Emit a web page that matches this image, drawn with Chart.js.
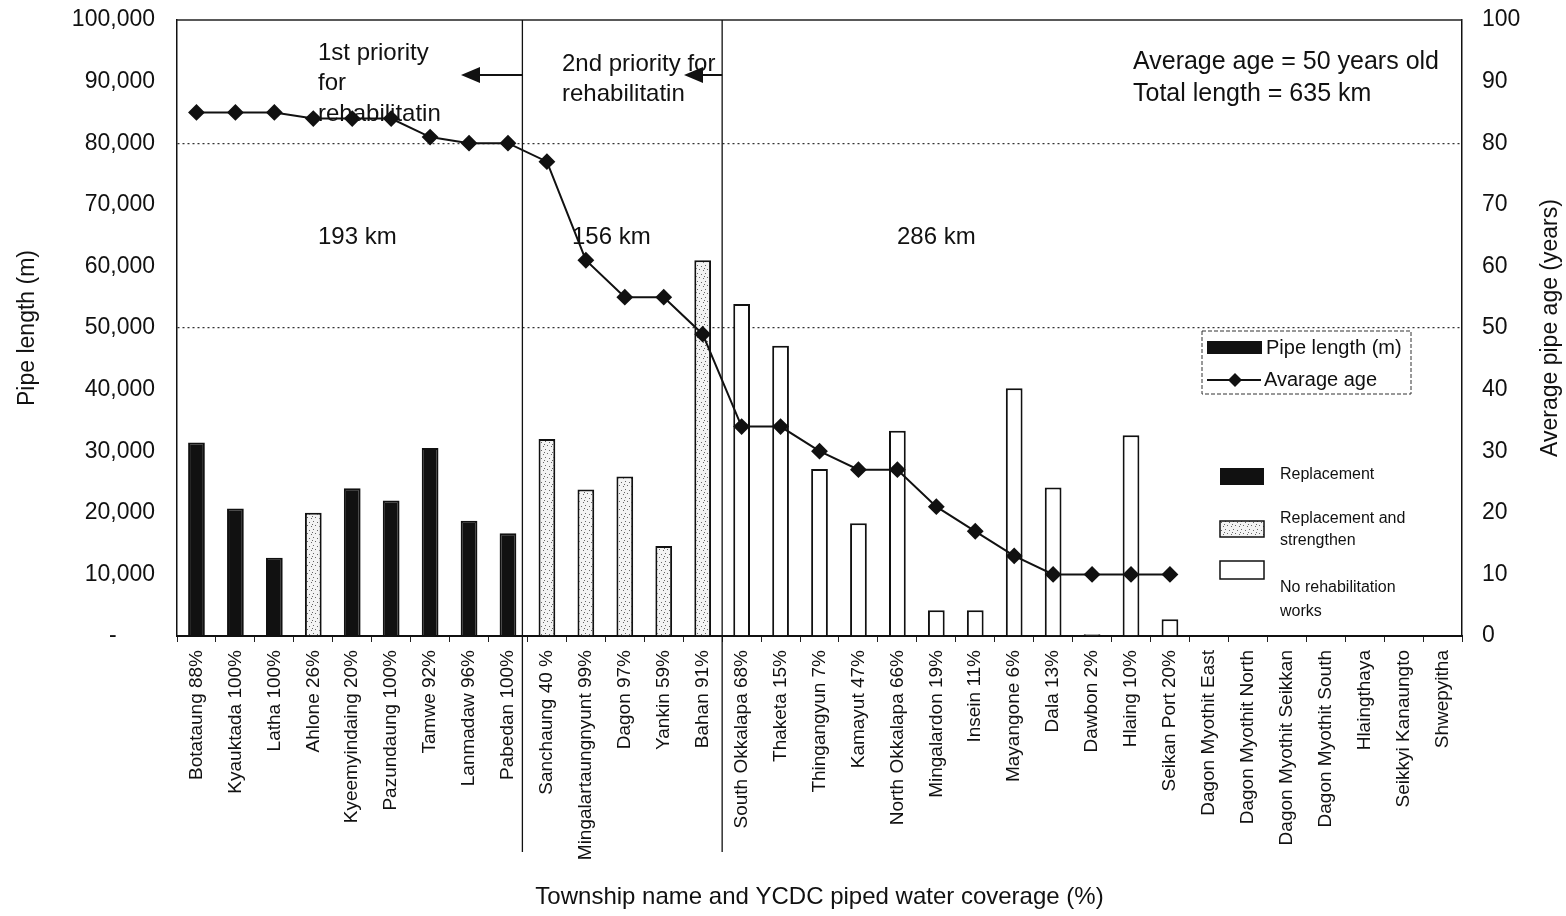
<!DOCTYPE html>
<html><head><meta charset="utf-8">
<script src="https://cdn.jsdelivr.net/npm/chart.js@4/dist/chart.umd.min.js"></script>
<style>html,body{margin:0;padding:0;background:#fff;overflow:hidden}</style>
</head><body>
<canvas id="c" width="1566" height="916"></canvas>
<script>
const townships = ['Botataung 88%','Kyauktada 100%','Latha 100%','Ahlone 26%','Kyeemyindaing 20%','Pazundaung 100%','Tamwe 92%','Lanmadaw 96%','Pabedan 100%','Sanchaung 40 %','Mingalartaungnyunt 99%','Dagon 97%','Yankin 59%','Bahan 91%','South Okkalapa 68%','Thaketa 15%','Thingangyun 7%','Kamayut 47%','North Okkalapa 66%','Mingalardon 19%','Insein 11%','Mayangone 6%','Dala 13%','Dawbon 2%','Hlaing 10%','Seikan Port 20%','Dagon Myothit East','Dagon Myothit North','Dagon Myothit Seikkan','Dagon Myothit South','Hlaingthaya','Seikkyi Kanaungto','Shwepyitha'];
const pipeLength = [31400,20700,12700,20000,24000,22000,30500,18700,16700,32000,23800,25900,14600,61000,53900,47100,27100,18300,33300,4200,4200,40200,24100,300,32600,2700,0,0,0,0,0,0,0];
const averageAge = [85,85,85,84,84,84,81,80,80,77,61,55,55,49,34,34,30,27,27,21,17,13,10,10,10,10,null,null,null,null,null,null,null];
// R = Replacement, RS = Replacement and strengthen, N = No rehabilitation works
const rehabType = ['R','R','R','RS','R','R','R','R','R','RS','RS','RS','RS','RS','N','N','N','N','N','N','N','N','N','N','N','N','N','N','N','N','N','N','N'];
const lengthTicks = {min:0, max:100000, step:10000};
const ageTicks = {min:0, max:100, step:10};

const FAM = "'Liberation Sans', Arial, Helvetica, sans-serif";
const INK = '#111';

function makePattern(){
  const p = document.createElement('canvas');
  p.width = 8; p.height = 8;
  const g = p.getContext('2d');
  g.fillStyle = '#f3f3f3'; g.fillRect(0,0,8,8);
  g.fillStyle = '#666';
  [[1,1],[5,2],[3,5],[7,6],[0,4]].forEach(([a,b]) => g.fillRect(a,b,1,1));
  return g.createPattern(p,'repeat');
}
const dotted = makePattern();
const fillFor = t => t === 'R' ? '#111' : (t === 'RS' ? dotted : '#ffffff');

const overlay = {
  id: 'overlay',
  afterDraw(chart){
    const {ctx, chartArea:a, scales:{x}} = chart;
    ctx.save();
    ctx.strokeStyle = '#222'; ctx.lineWidth = 1.5;
    ctx.beginPath(); ctx.moveTo(a.left, a.top); ctx.lineTo(a.right, a.top); ctx.stroke();
    const sep = (i,f) => x.getPixelForValue(i) + f*(x.getPixelForValue(i+1) - x.getPixelForValue(i));
    const s1 = sep(8, 0.37), s2 = sep(13, 0.5);
    ctx.strokeStyle = INK; ctx.lineWidth = 1.3;
    [s1, s2].forEach(sx => { ctx.beginPath(); ctx.moveTo(sx, a.top); ctx.lineTo(sx, 852); ctx.stroke(); });
    const arrow = (from, y, tip) => {
      ctx.lineWidth = 2;
      ctx.beginPath(); ctx.moveTo(from, y); ctx.lineTo(tip + 16, y); ctx.stroke();
      ctx.beginPath(); ctx.moveTo(tip, y); ctx.lineTo(tip + 19, y - 8); ctx.lineTo(tip + 19, y + 8); ctx.closePath();
      ctx.fillStyle = INK; ctx.fill();
    };
    arrow(s1, 75, 461);
    arrow(s2, 75, 684);

    ctx.fillStyle = INK; ctx.textBaseline = 'middle'; ctx.textAlign = 'left';
    ctx.font = `24px ${FAM}`;
    ctx.fillText('1st priority', 318, 53);
    ctx.fillText('for', 318, 83);
    ctx.fillText('rehabilitatin', 318, 114);
    ctx.fillText('2nd priority for', 562, 64);
    ctx.fillText('rehabilitatin', 562, 94);
    ctx.fillText('193 km', 318, 237);
    ctx.fillText('156 km', 572, 237);
    ctx.fillText('286 km', 897, 237);
    ctx.font = `25px ${FAM}`;
    ctx.fillText('Average age = 50 years old', 1133, 62);
    ctx.fillText('Total length = 635 km', 1133, 94);

    // legend box
    ctx.save();
    ctx.strokeStyle = '#333'; ctx.lineWidth = 1; ctx.setLineDash([4,2]);
    ctx.strokeRect(1202, 331, 209, 63);
    ctx.restore();
    ctx.fillStyle = INK;
    ctx.fillRect(1207, 341, 55, 13);
    ctx.font = `20px ${FAM}`;
    ctx.fillText('Pipe length (m)', 1266, 348);
    ctx.lineWidth = 2; ctx.strokeStyle = INK;
    ctx.beginPath(); ctx.moveTo(1207, 380); ctx.lineTo(1261, 380); ctx.stroke();
    ctx.beginPath(); ctx.moveTo(1235, 373); ctx.lineTo(1242, 380); ctx.lineTo(1235, 387); ctx.lineTo(1228, 380); ctx.closePath(); ctx.fill();
    ctx.fillText('Avarage age', 1264, 380);

    // rehabilitation legend
    ctx.font = `16px ${FAM}`;
    ctx.fillStyle = '#111'; ctx.fillRect(1220, 468, 44, 17);
    ctx.fillStyle = INK; ctx.fillText('Replacement', 1280, 475);
    ctx.fillStyle = dotted; ctx.fillRect(1220, 521, 44, 16);
    ctx.lineWidth = 1.5; ctx.strokeRect(1220, 521, 44, 16);
    ctx.fillStyle = INK;
    ctx.fillText('Replacement and', 1280, 519);
    ctx.fillText('strengthen', 1280, 541);
    ctx.fillStyle = '#fff'; ctx.fillRect(1220, 561, 44, 18);
    ctx.strokeRect(1220, 561, 44, 18);
    ctx.fillStyle = INK;
    ctx.fillText('No rehabilitation', 1280, 588);
    ctx.fillText('works', 1280, 612);

    // right axis title
    ctx.save();
    ctx.translate(1551, (a.top + a.bottom) / 2);
    ctx.rotate(-Math.PI / 2);
    ctx.textAlign = 'center';
    ctx.font = `23px ${FAM}`;
    ctx.fillText('Average pipe age (years)', 0, 0);
    ctx.restore();
    ctx.restore();
  }
};

new Chart(document.getElementById('c'), {
  data: {
    labels: townships,
    datasets: [
      {
        type: 'line', label: 'Avarage age', yAxisID: 'y1', data: averageAge,
        borderColor: INK, backgroundColor: INK, borderWidth: 2,
        pointStyle: 'rectRot', pointRadius: 7, pointHoverRadius: 7, tension: 0, order: 0
      },
      {
        type: 'bar', label: 'Pipe length (m)', yAxisID: 'y', data: pipeLength,
        backgroundColor: rehabType.map(fillFor), borderColor: INK, borderWidth: 2,
        barPercentage: 0.43, categoryPercentage: 1.0, order: 1
      }
    ]
  },
  options: {
    responsive: false, animation: false,
    layout: { padding: { top: 20, left: 0, right: 0, bottom: 0 } },
    plugins: { legend: { display: false }, tooltip: { enabled: false } },
    scales: {
      x: {
        ticks: { autoSkip: false, minRotation: 90, maxRotation: 90, color: INK, padding: 8, font: { size: 19, family: FAM } },
        grid: { display: true, drawOnChartArea: false, drawTicks: true, tickLength: 6, color: '#222', offset: true },
        border: { display: true, color: INK, width: 2 },
        title: { display: true, text: 'Township name and YCDC piped water coverage (%)', color: INK, font: { size: 24, family: FAM }, padding: { top: 0, bottom: 4 } },
        afterFit: s => { s.height = 280; }
      },
      y: {
        position: 'left', min: lengthTicks.min, max: lengthTicks.max,
        ticks: { stepSize: lengthTicks.step, padding: 22, color: INK, font: { size: 23, family: FAM },
          callback: v => v === 0 ? '-      ' : v.toLocaleString('en-US') },
        grid: { drawTicks: false, lineWidth: 1.3, color: c => (c.tick && (c.tick.value === 50000 || c.tick.value === 80000)) ? '#333' : 'rgba(0,0,0,0)' },
        border: { display: true, color: INK, width: 1.5, dash: [2, 3] },
        title: { display: true, text: 'Pipe length (m)', color: INK, font: { size: 23, family: FAM }, padding: { top: 14, bottom: 0 } },
        afterFit: s => { s.width = 177; s.paddingTop = 0; s.paddingBottom = 0; }
      },
      y1: {
        position: 'right', min: ageTicks.min, max: ageTicks.max,
        ticks: { stepSize: ageTicks.step, padding: 20, color: INK, font: { size: 23, family: FAM } },
        grid: { display: false, drawTicks: false },
        border: { display: true, color: INK, width: 1.5 },
        afterFit: s => { s.width = 104; s.paddingTop = 0; s.paddingBottom = 0; }
      }
    }
  },
  plugins: [overlay]
});
</script>
</body></html>
